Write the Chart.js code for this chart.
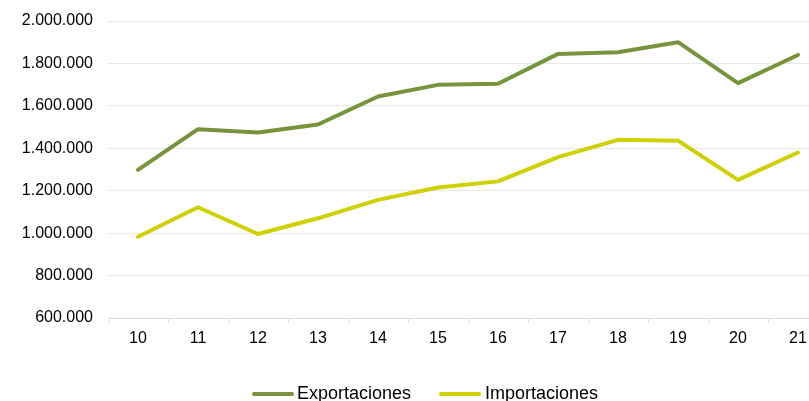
<!DOCTYPE html>
<html>
<head>
<meta charset="utf-8">
<script src="https://cdn.jsdelivr.net/npm/chart.js@4"></script>
<style>
	html, body { margin: 0; padding: 0; background: #fff; overflow: hidden; }
	#wrap { position: relative; width: 809px; height: 401px; overflow: hidden; }
	#chart { position: absolute; left: 0; top: 0; }
	.legend-item { position: absolute; top: 384px; height: 18px; line-height: 18px; font-family: "Liberation Sans", Arial, sans-serif; font-size: 18px; color: #000; white-space: nowrap; }
	.legend-line { position: absolute; height: 4px; top: 391.5px; border-radius: 2px; }
</style>
</head>
<body>
<div id="wrap">
	<canvas id="chart" width="840" height="401"></canvas>
</div>
<script>
	// years (2010-2021)
	const years = ["10", "11", "12", "13", "14", "15", "16", "17", "18", "19", "20", "21"];
	const exportaciones = [1298000, 1490000, 1474000, 1512000, 1644000, 1699000, 1704000, 1845000, 1853000, 1900000, 1707000, 1840000];
	const importaciones = [983000, 1122000, 996000, 1070000, 1157000, 1215000, 1244000, 1358000, 1440000, 1436000, 1251000, 1380000];
	const seriesNames = ["Exportaciones", "Importaciones"];
	const seriesColors = ["#77933c", "#cfd000"];

	const yMin = 600000;
	const yMax = 2000000;
	const yStep = 200000;

	function formatMiles(v) {
		return String(v).replace(/\B(?=(\d{3})+(?!\d))/g, ".");
	}

	const wrap = document.getElementById("wrap");

	new Chart(document.getElementById("chart"), {
		type: "line",
		data: {
			labels: years,
			datasets: [
				{
					label: seriesNames[0],
					data: exportaciones,
					borderColor: seriesColors[0],
					backgroundColor: seriesColors[0],
					borderWidth: 4,
					pointRadius: 0,
					tension: 0,
					borderCapStyle: "round",
					borderJoinStyle: "round"
				},
				{
					label: seriesNames[1],
					data: importaciones,
					borderColor: seriesColors[1],
					backgroundColor: seriesColors[1],
					borderWidth: 4,
					pointRadius: 0,
					tension: 0,
					borderCapStyle: "round",
					borderJoinStyle: "round"
				}
			]
		},
		options: {
			responsive: false,
			animation: false,
			layout: { padding: { top: 21, right: 12, left: 0, bottom: 0 } },
			plugins: {
				legend: { display: false },
				tooltip: { enabled: false }
			},
			scales: {
				x: {
					offset: true,
					afterFit(scale) {
						scale.height = 83;
						scale.paddingLeft = 0;
						scale.paddingRight = 0;
					},
					border: { display: true, color: "#d9d9d9", width: 1 },
					grid: { display: true, drawOnChartArea: false, drawTicks: true, tickLength: 5, color: "#d9d9d9", offset: true },
					ticks: {
						color: "#000",
						padding: 6,
						font: { family: "'Liberation Sans', Arial, sans-serif", size: 16 }
					}
				},
				y: {
					min: yMin,
					max: yMax,
					afterFit(scale) {
						scale.width = 108;
						scale.paddingTop = 0;
						scale.paddingBottom = 0;
					},
					border: { display: false },
					grid: { color: "#e8e8e8", drawTicks: false },
					ticks: {
						stepSize: yStep,
						padding: 15,
						color: "#000",
						font: { family: "'Liberation Sans', Arial, sans-serif", size: 16 },
						callback: v => formatMiles(v)
					}
				}
			}
		}
	});

	// legend below the chart (HTML, partly cut off like the original)
	const legendPos = [{ line: 252, text: 297 }, { line: 439, text: 485 }];
	seriesNames.forEach((name, i) => {
		const line = document.createElement("div");
		line.className = "legend-line";
		line.style.left = legendPos[i].line + "px";
		line.style.width = "42px";
		line.style.background = seriesColors[i];
		wrap.appendChild(line);

		const txt = document.createElement("div");
		txt.className = "legend-item";
		txt.style.left = legendPos[i].text + "px";
		txt.textContent = name;
		wrap.appendChild(txt);
	});
</script>
</body>
</html>
